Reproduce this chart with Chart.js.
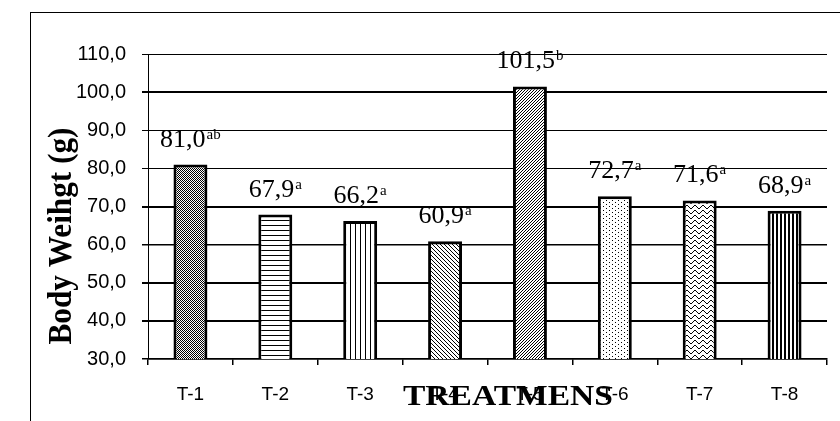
<!DOCTYPE html>
<html>
<head>
<meta charset="utf-8">
<script src="https://cdn.jsdelivr.net/npm/chart.js@4.4.1/dist/chart.umd.min.js"></script>
<style>
  body { margin: 0; background: #fff; }
  #wrap { width: 840px; height: 421px; }
</style>
</head>
<body>
<div id="wrap"><canvas id="chartCanvas" width="840" height="421"></canvas></div>
<script>
// data from the figure
const categories = ['T-1', 'T-2', 'T-3', 'T-4', 'T-5', 'T-6', 'T-7', 'T-8'];
const bodyWeight = [81.0, 67.9, 66.2, 60.9, 101.5, 72.7, 71.6, 68.9];
const letters = ['ab', 'a', 'a', 'a', 'b', 'a', 'a', 'a'];
const yTicks = [30, 40, 50, 60, 70, 80, 90, 100, 110];

function komma(v) {
  return v.toFixed(1).replace('.', ',');
}

// little tiles for the hatch fills
function tile(w, h, draw) {
  const c = document.createElement('canvas');
  c.width = w;
  c.height = h;
  const t = c.getContext('2d');
  t.fillStyle = '#fff';
  t.fillRect(0, 0, w, h);
  t.fillStyle = '#000';
  draw(t);
  return document.getElementById('chartCanvas').getContext('2d').createPattern(c, 'repeat');
}

const patterns = [
  // T-1 fine checker
  tile(2, 2, t => { t.fillRect(0, 0, 1, 1); t.fillRect(1, 1, 1, 1); }),
  // T-2 horizontal
  tile(1, 5, t => { t.fillRect(0, 0, 1, 1); }),
  // T-3 vertical
  tile(5, 1, t => { t.fillRect(0, 0, 1, 1); }),
  // T-4 diagonal \
  tile(4, 4, t => { for (let i = 0; i < 4; i++) t.fillRect(i, i, 1, 1); }),
  // T-5 diagonal /
  tile(3, 3, t => { for (let i = 0; i < 3; i++) t.fillRect(i, 2 - i, 1, 1); }),
  // T-6 dots
  tile(6, 4, t => { t.fillRect(0, 0, 1, 1); t.fillRect(3, 2, 1, 1); }),
  // T-7 waves
  tile(8, 5, t => {
    const py = [1, 2, 3, 3, 2, 1, 0, 0];
    for (let i = 0; i < 8; i++) t.fillRect(i, py[i], 1, 1);
  }),
  // T-8 dense vertical
  tile(4, 1, t => { t.fillRect(0, 0, 2, 1); })
];

const gridWidths = [1.5, 2, 2, 1.5, 2, 1, 1, 2, 1];

const framePlugin = {
  id: 'frame',
  beforeDraw(chart) {
    const ctx = chart.ctx;
    ctx.save();
    ctx.fillStyle = '#fff';
    ctx.fillRect(0, 0, chart.width, chart.height);
    ctx.strokeStyle = '#000';
    ctx.lineWidth = 1;
    ctx.strokeRect(30.5, 12.5, 900, 600);
    ctx.restore();
  }
};

// value labels with the letter superscripts
const labelPlugin = {
  id: 'waardes',
  afterDatasetsDraw(chart) {
    const ctx = chart.ctx;
    const meta = chart.getDatasetMeta(0);
    ctx.save();
    ctx.fillStyle = '#000';
    ctx.textBaseline = 'alphabetic';
    ctx.textAlign = 'left';
    meta.data.forEach((bar, i) => {
      const main = komma(bodyWeight[i]);
      ctx.font = '26px "Liberation Serif"';
      const w1 = ctx.measureText(main).width;
      ctx.font = '15px "Liberation Serif"';
      const w2 = ctx.measureText(letters[i]).width;
      const x0 = bar.x - (w1 + w2 + 1) / 2;
      const base = bar.y - 18;
      ctx.font = '26px "Liberation Serif"';
      ctx.fillText(main, x0, base);
      ctx.font = '15px "Liberation Serif"';
      ctx.fillText(letters[i], x0 + w1 + 1, base - 8);
    });
    ctx.restore();
  }
};

// axis titles, squeezed like in the original
const titlePlugin = {
  id: 'titels',
  afterDraw(chart) {
    const ctx = chart.ctx;
    ctx.save();
    ctx.fillStyle = '#000';
    ctx.textAlign = 'center';
    ctx.textBaseline = 'alphabetic';

    ctx.font = 'bold 33px "Liberation Serif"';
    let w = ctx.measureText('Body Weihgt (g)').width;
    ctx.translate(71, 236);
    ctx.rotate(-Math.PI / 2);
    ctx.scale(217 / w, 1);
    ctx.fillText('Body Weihgt (g)', 0, 0);
    ctx.restore();

    ctx.save();
    ctx.fillStyle = '#000';
    ctx.textAlign = 'center';
    ctx.textBaseline = 'alphabetic';
    ctx.font = 'bold 30px "Liberation Serif"';
    w = ctx.measureText('TREATMENS').width;
    ctx.translate(508, 405);
    ctx.scale(210 / w, 1);
    ctx.fillText('TREATMENS', 0, 0);
    ctx.restore();
  }
};

const ctx = document.getElementById('chartCanvas').getContext('2d');
new Chart(ctx, {
  type: 'bar',
  data: {
    labels: categories,
    datasets: [{
      data: bodyWeight,
      backgroundColor: patterns,
      borderColor: '#000',
      borderWidth: 3,
      borderSkipped: false,
      barPercentage: 0.4,
      categoryPercentage: 1
    }]
  },
  options: {
    responsive: false,
    animation: false,
    devicePixelRatio: 1,
    layout: { padding: { top: 54, right: 13, left: 0, bottom: 0 } },
    plugins: {
      legend: { display: false },
      title: { display: false },
      tooltip: { enabled: false }
    },
    scales: {
      x: {
        afterFit: (scale) => { scale.height = 62; },
        grid: {
          offset: true,
          drawOnChartArea: false,
          color: '#000',
          lineWidth: 1.5,
          tickLength: 6
        },
        border: { color: '#000', width: 1.5 },
        ticks: {
          color: '#000',
          padding: 18,
          font: { family: '"Liberation Sans"', size: 19 }
        }
      },
      y: {
        min: yTicks[0],
        max: yTicks[yTicks.length - 1],
        afterFit: (scale) => { scale.width = 148; },
        afterBuildTicks: (scale) => { scale.ticks = yTicks.map(v => ({ value: v })); },
        grid: {
          color: '#000',
          lineWidth: (c) => gridWidths[c.index] || 1,
          tickLength: 6
        },
        border: { color: '#000', width: 1 },
        ticks: {
          color: '#000',
          padding: 16,
          font: { family: '"Liberation Sans"', size: 20 },
          callback: (v) => komma(v)
        }
      }
    }
  },
  plugins: [framePlugin, labelPlugin, titlePlugin]
});
</script>
</body>
</html>
